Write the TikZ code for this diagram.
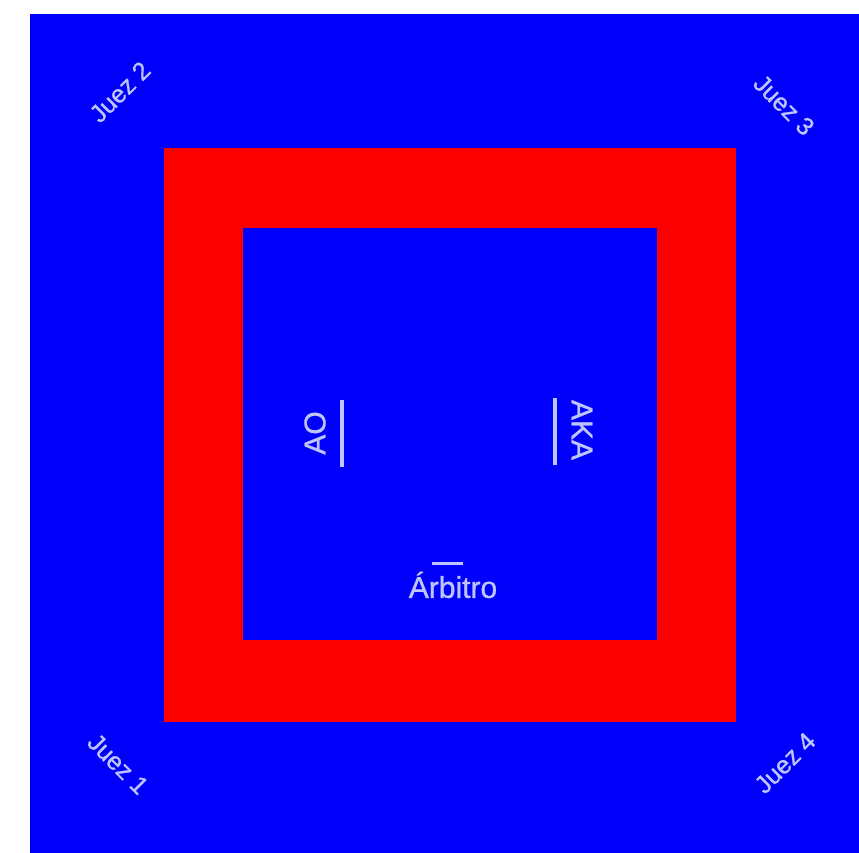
\documentclass[tikz,border=0pt]{standalone}
\usepackage{fontspec}
\setmainfont{Liberation Sans}
\newfontfamily\lblfont[FakeBold=1.0]{Liberation Sans}
\definecolor{matblue}{RGB}{0,0,250}
\definecolor{matred}{RGB}{252,0,0}
\definecolor{txt}{RGB}{190,196,255}
\begin{document}
\begin{tikzpicture}[x=1pt,y=-1pt,
  lbl/.style={text=txt,inner sep=0pt,font=\lblfont\fontsize{25}{30}\selectfont},
  big/.style={text=txt,inner sep=0pt,font=\lblfont\fontsize{30}{34}\selectfont},
  bar/.style={draw=txt,line width=3.5pt}]
\useasboundingbox (0,0) rectangle (859,853);
\fill[white] (0,0) rectangle (859,853);
\fill[matblue] (30,14) rectangle (859,853);
\fill[matred] (164,148) rectangle (736,722);
\fill[matblue] (243,228) rectangle (657,640);
\node[lbl,rotate=45] (j2) at (120,92) {Juez 2};
\node[lbl,rotate=-45] (j3) at (784,105) {Juez 3};
\node[lbl,rotate=-45] (j1) at (118,764) {Juez 1};
\node[lbl,rotate=45] (j4) at (785,763) {Juez 4};
\node[big,rotate=90] (ao) at (315,433) {AO};
\node[big,rotate=-90] (aka) at (582,430) {AKA};
\node[big] (arb) at (453,585) {Árbitro};
\draw[bar] (342,400) -- (342,467);
\draw[bar] (555,398) -- (555,465);
\draw[bar,line width=3pt] (432,563) -- (463,563);
\end{tikzpicture}
\end{document}
